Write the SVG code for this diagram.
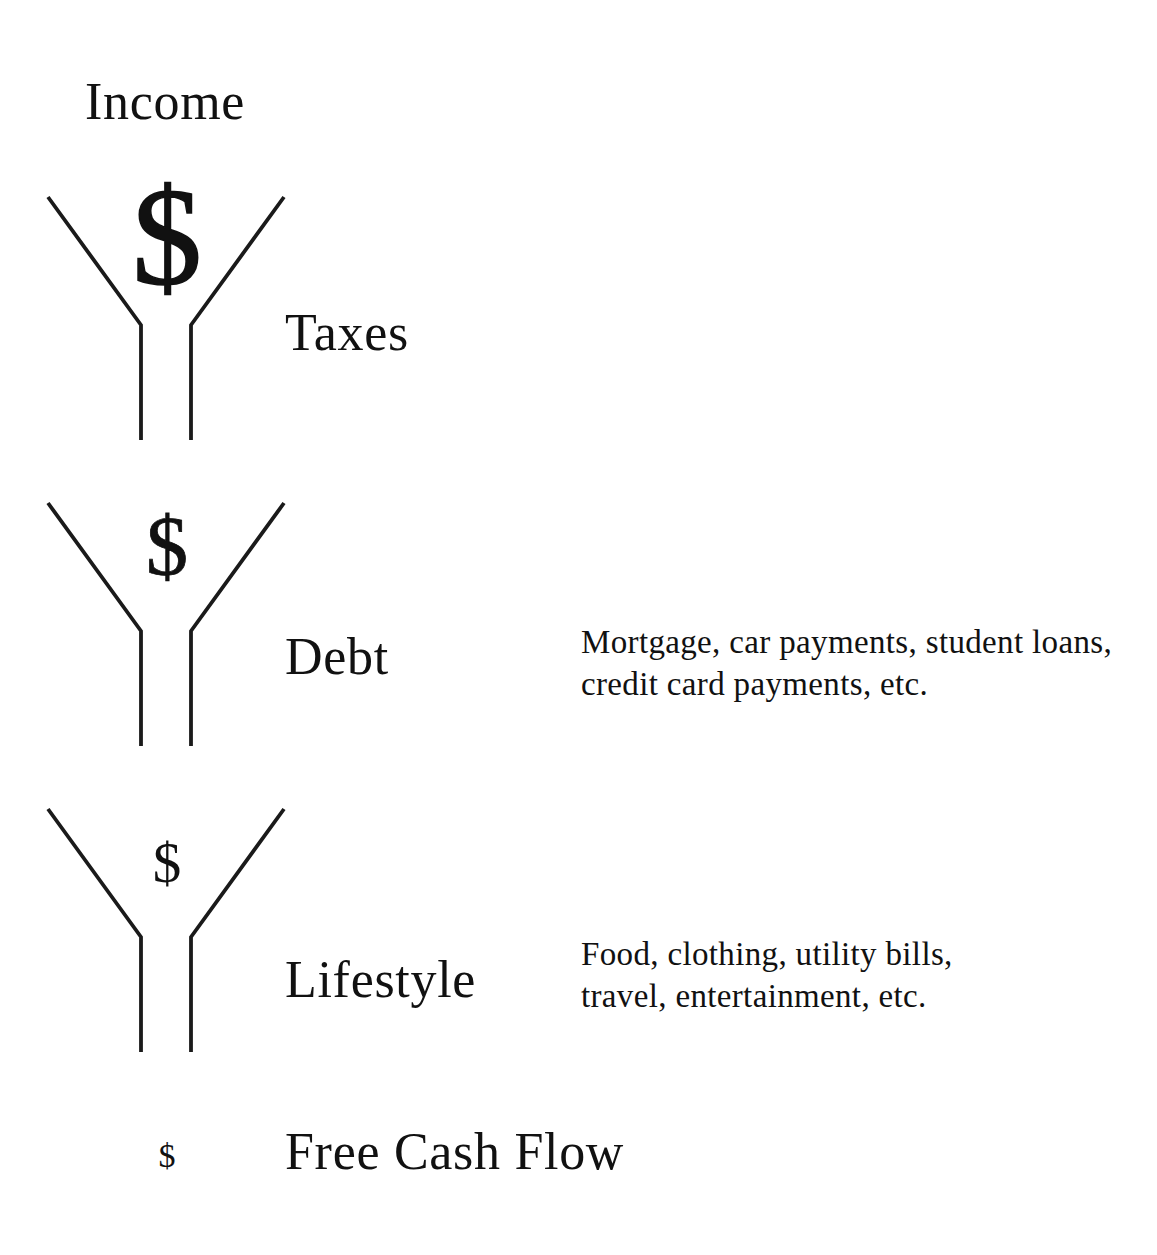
<svg xmlns="http://www.w3.org/2000/svg" width="1157" height="1255" viewBox="0 0 1157 1255">
<style>
.f{fill:none;stroke:#1a1a1a;stroke-width:3.8;stroke-linejoin:miter}
.t{font-family:"Liberation Serif","Times New Roman",serif;fill:#111}
.lbl{font-size:52px;letter-spacing:0.7px}
.note{font-size:33px;letter-spacing:0.35px}
.d{text-anchor:middle}
</style>
<rect width="1157" height="1255" fill="#fff"/>
<g id="income"><text class="t lbl" x="85" y="119">Income</text></g>
<g id="funnel-taxes">
<polyline class="f" points="48,197 141,325 141,440"/>
<polyline class="f" points="284,197 191,325 191,440"/>
<text class="t d" x="167" y="284" font-size="140" stroke="#111" stroke-width="1.5">$</text>
<text class="t lbl" x="285" y="350">Taxes</text>
</g>
<g id="funnel-debt">
<polyline class="f" points="48,503 141,631 141,746"/>
<polyline class="f" points="284,503 191,631 191,746"/>
<text class="t d" x="167" y="575" font-size="84" stroke="#111" stroke-width="0.8">$</text>
<text class="t lbl" x="285" y="674">Debt</text>
<text class="t note" x="581" y="653">Mortgage, car payments, student loans,</text>
<text class="t note" x="581" y="695">credit card payments, etc.</text>
</g>
<g id="funnel-lifestyle">
<polyline class="f" points="48,809 141,937 141,1052"/>
<polyline class="f" points="284,809 191,937 191,1052"/>
<text class="t d" x="167" y="882" font-size="57">$</text>
<text class="t lbl" x="285" y="997">Lifestyle</text>
<text class="t note" x="581" y="965">Food, clothing, utility bills,</text>
<text class="t note" x="581" y="1007">travel, entertainment, etc.</text>
</g>
<g id="free-cash-flow">
<text class="t d" x="167" y="1167" font-size="34">$</text>
<text class="t lbl" x="285" y="1169">Free Cash Flow</text>
</g>
<g id="connectors"></g>
</svg>
